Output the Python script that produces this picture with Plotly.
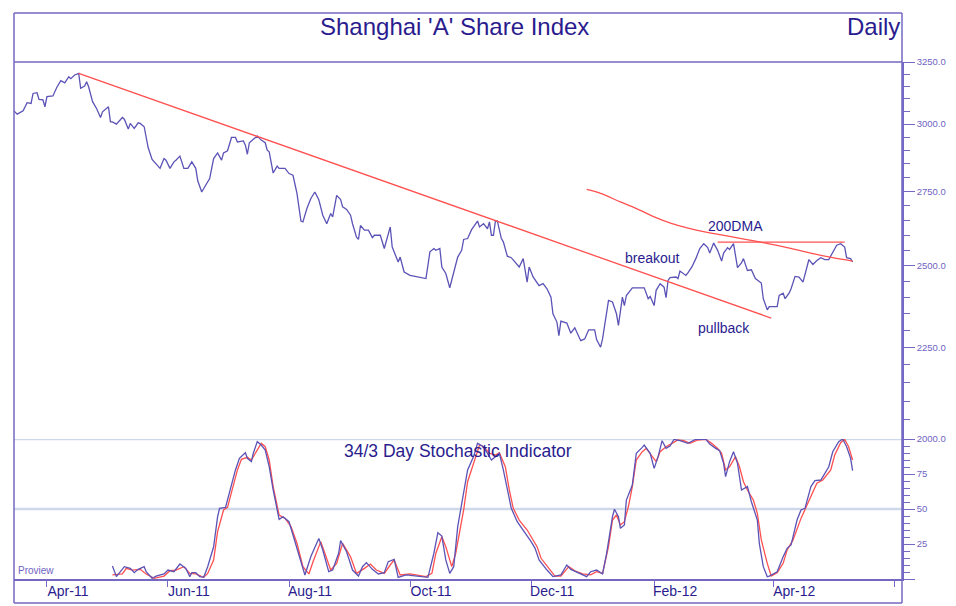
import numpy as np
import pandas as pd
import plotly.graph_objects as go

# ---------------- data (days counted from 2011-04-01) ----------------
price_day = [-17,-15,-12,-10,-8,-7,-5,-4,-2,-1,0,3,5,7,9,10,11,12,14,16,17,19,20,21,23,25,27,28,31,32,33,35,38,39,41,42,44,46,47,49,
             51,53,55,57,59,60,62,64,65,67,69,71,73,75,76,78,80,82,84,86,88,89,91,93,95,96,99,100,101,102,104,106,108,110,111,112,114,116,117,120,
             122,124,126,128,129,131,133,135,137,139,141,143,144,146,148,149,151,153,154,156,157,158,160,162,164,165,166,168,170,171,173,174,175,177,178,180,
             183,187,191,193,195,196,198,199,201,203,205,207,209,210,212,214,217,218,220,222,223,224,225,226,227,229,230,232,234,236,238,240,242,243,245,248,
             250,252,254,255,257,258,259,262,264,266,269,271,273,276,277,279,280,283,285,287,288,290,291,292,295,301,303,304,306,307,309,311,312,313,314,317,
             318,319,322,323,325,327,329,331,333,334,336,338,340,341,343,344,346,348,350,351,353,355,357,360,361,363,364,368,369,371,372,374,375,377,379,381,
             383,384,386,388,390,392,394,395,397,398,400,402,403,405,406]
price_val = [3055,3039,3052,3084,3081,3121,3124,3097,3095,3068,3108,3111,3146,3173,3164,3178,3189,3181,3196,3203,3142,3151,3168,3148,3088,3061,3026,3048,3068,3009,
             3009,3000,3026,3019,2981,3003,2984,3005,3003,2990,2911,2867,2849,2834,2870,2864,2834,2858,2864,2879,2834,2834,2858,2834,2789,2749,2773,2797,2870,2891,
             2864,2891,2899,2949,2949,2932,2936,2920,2886,2929,2942,2954,2939,2929,2901,2895,2817,2842,2834,2834,2815,2809,2744,2648,2645,2691,2726,2749,2722,2668,
             2639,2674,2662,2737,2722,2697,2688,2668,2639,2594,2586,2633,2617,2617,2592,2600,2600,2600,2556,2578,2628,2561,2545,2512,2528,2480,2469,2464,2459,2545,
             2556,2550,2556,2496,2475,2430,2480,2528,2550,2586,2589,2619,2648,2628,2639,2622,2645,2600,2600,2648,2648,2589,2578,2531,2526,2512,2496,2523,2448,2496,
             2464,2437,2443,2427,2401,2350,2325,2285,2328,2322,2292,2308,2270,2275,2302,2302,2273,2251,2275,2391,2386,2350,2315,2401,2375,2406,2430,2430,2396,2403,
             2375,2422,2443,2432,2399,2453,2462,2464,2459,2483,2469,2477,2496,2523,2556,2572,2559,2541,2574,2550,2515,2541,2559,2553,2572,2494,2509,2523,2485,2487,
             2459,2445,2396,2362,2372,2372,2406,2413,2396,2413,2427,2466,2464,2448,2494,2520,2504,2517,2526,2520,2520,2531,2556,2567,2572,2561,2526,2523,2512]

trend_day = [16, 365]
trend_val = [3203, 2337]
dma_day = [272, 279, 289, 299, 306, 315, 322, 334, 346, 359, 373, 386, 396, 406]
dma_val = [2758, 2744, 2714, 2685, 2662, 2639, 2626, 2608, 2594, 2578, 2559, 2539, 2526, 2515]
res_day = [338, 402]
res_val = [2577, 2577]

k_day = [33,35,39,42,44,46,49,50,53,55,59,61,64,67,70,72,73,75,77,79,81,84,86,87,90,92,95,97,100,101,103,104,106,108,110,112,114,117,119,122,
         124,127,130,133,137,139,142,144,147,148,151,154,157,159,161,164,167,170,172,175,177,181,188,192,195,197,199,201,203,205,207,210,212,215,217,220,222,224,226,228,
         230,232,234,237,240,242,244,246,248,252,255,259,262,264,269,272,274,277,280,282,285,286,288,289,291,292,295,297,300,301,304,306,308,310,312,314,316,319,323,327,
         332,334,337,339,341,342,344,346,348,350,353,355,358,359,361,363,364,368,371,373,375,378,380,382,385,387,390,394,396,399,401,403,405,406]
k_val = [9.3,1.7,8.8,7.6,4.5,6.9,8.8,5.2,0.5,2.1,3.6,6.4,5.2,10.7,7.6,1.7,4.5,4.5,1.7,1.2,8.8,23,44.5,50.5,51.2,62.4,77.9,86.2,90.2,86.2,
         83.8,89.8,98.1,95.7,92.1,80.2,63.6,42.6,44.5,40.9,31.4,15.9,2.9,16,29,20.7,5.2,6.4,18.4,27.4,19.5,6.4,2.1,8.8,11.7,6.9,3.6,4.5,12.4,14,
         1.2,2.9,2.1,1.2,18.4,33.1,30.7,13.6,4,8.8,37.4,61.2,77.9,87.4,96.9,94.5,89.8,85,87.4,89.8,77.9,63.6,50.5,40.9,35,30.7,26.7,21.9,13.6,6.4,
         1.7,2.9,10,6.9,3.6,1.7,5.2,6.4,3.6,18,44.5,49.8,44.5,36.2,38.6,56.4,67.1,89.8,94,95.7,89.8,79,87.4,98.8,93.3,95,99.8,98.8,96.9,99.8,
         100,96.4,93.3,91.7,82.6,73.1,83.8,90.9,82.6,63.6,66,55.2,42.1,25.5,8.8,1.7,2.1,5.2,15.9,21.9,24.3,42.1,49.3,50.5,66,70.2,70.7,80.2,90.9,98.1,
         100,94.5,86.2,77.4]
d_day = [33,38,40,43,47,50,54,59,62,65,69,72,75,79,81,84,86,89,91,93,96,98,101,103,106,108,110,112,114,117,120,123,126,129,132,134,138,141,143,146,
         149,153,156,160,163,166,170,173,175,178,183,191,194,196,199,201,204,206,210,212,215,218,220,223,226,228,231,233,235,238,242,244,247,249,253,256,259,263,266,270,
         274,277,280,283,285,287,289,291,293,295,297,300,302,305,307,309,312,315,318,321,324,328,332,335,338,340,342,344,347,349,351,353,356,358,360,363,365,368,371,373,
         376,380,382,385,388,391,395,397,400,402,404,406]
d_val = [2.9,3.6,7.6,6.4,6.9,3.6,0.5,2.1,5.9,6.4,8.8,4,3.6,1.2,4,13.6,33.8,49.3,51.2,61.2,77.9,85.5,86.9,85,92.1,96.9,94.5,85,66,45.7,
         43.3,37.4,25.5,8.8,3.6,12,26.7,13.6,6.4,11.2,25.5,15.9,4,7.6,10.7,6.4,4,10,13.6,2.9,3.6,1.7,4,18.4,30.2,23.1,8.8,18.4,49.3,69.5,
         82.6,95.7,94.5,89.8,88.6,90.2,80.2,63.6,50.5,42.1,35,30.2,23.1,14.8,7.6,2.1,2.1,8.8,5.9,3.6,2.9,5.2,4,23.1,42.1,45.7,38.6,40.9,51.6,66,
         85,90.9,93.3,87.4,83.8,90.9,94.5,96.9,99.3,98.8,96.9,99.3,99.8,96.9,93.3,89.8,77.9,80.2,87.4,80.2,69.5,63.6,56.4,46.9,27.9,11.2,2.1,4.5,11.2,20.7,
         27.9,43.3,49.3,58.8,68.4,70.7,77.9,88.6,97.4,99.8,94.5,85]

month_ticks = ["2011-04-01", "2011-06-01", "2011-08-01", "2011-10-01", "2011-12-01", "2012-02-01", "2012-04-01", "2012-06-01"]
month_labels = ["Apr-11", "Jun-11", "Aug-11", "Oct-11", "Dec-11", "Feb-12", "Apr-12", ""]
price_ticks = [2000, 2250, 2500, 2750, 3000, 3250]
price_tick_labels = ["2000.0", "2250.0", "2500.0", "2750.0", "3000.0", "3250.0"]
price_minor = [v for v in range(2050, 3250, 50) if v % 250 != 0]
stoch_ticks = [0, 25, 50, 75]
stoch_tick_labels = ["", "25", "50", "75"]
stoch_minor = [v for v in range(5, 100, 5) if v % 25 != 0]

# ---------------- helpers ----------------
base = pd.Timestamp("2011-04-01")
def to_dates(days):
    return base + pd.to_timedelta(days, unit="D")

PURPLE = "#7468c2"
LINE_BLUE = "#5b53b6"
RED = "#ff5050"
TEXT = "#2a1c8e"
GRID = "#cdd8ea"
FONT = "Liberation Sans, Arial, sans-serif"

fig = go.Figure()
fig.add_trace(go.Scatter(x=to_dates(price_day), y=price_val, mode="lines",
                         line=dict(color=LINE_BLUE, width=1.3), xaxis="x", yaxis="y"))
fig.add_trace(go.Scatter(x=to_dates(trend_day), y=trend_val, mode="lines",
                         line=dict(color=RED, width=1.3), xaxis="x", yaxis="y"))
fig.add_trace(go.Scatter(x=to_dates(dma_day), y=dma_val, mode="lines", line_shape="spline",
                         line=dict(color=RED, width=1.3), xaxis="x", yaxis="y"))
fig.add_trace(go.Scatter(x=to_dates(res_day), y=res_val, mode="lines",
                         line=dict(color=RED, width=1.3), xaxis="x", yaxis="y"))
fig.add_trace(go.Scatter(x=to_dates(d_day), y=d_val, mode="lines",
                         line=dict(color=RED, width=1.3), xaxis="x", yaxis="y2"))
fig.add_trace(go.Scatter(x=to_dates(k_day), y=k_val, mode="lines",
                         line=dict(color=LINE_BLUE, width=1.3), xaxis="x", yaxis="y2"))

split = 140 / 517  # stochastic panel share of plot height

# the page body adds an 8px margin, so the figure is 8px smaller than the window
fig.update_layout(
    width=948, height=598, autosize=False,
    margin=dict(l=6, r=54, t=54, b=27, pad=0),
    paper_bgcolor="white", plot_bgcolor="white",
    showlegend=False,
    font=dict(family=FONT, color=TEXT),
    xaxis=dict(
        type="date", anchor="y2", domain=[0, 1],
        range=[base + pd.Timedelta(days=-16.6), base + pd.Timedelta(days=430.9)],
        tickvals=month_ticks, ticktext=month_labels,
        ticks="outside", ticklen=6, tickwidth=1.2, tickcolor=PURPLE,
        tickfont=dict(size=14, color=TEXT, family=FONT),
        ticklabelshift=21, ticklabelstandoff=-8,
        showline=True, linecolor=PURPLE, linewidth=1.5,
        showgrid=False, zeroline=False, automargin=False,
    ),
    yaxis=dict(
        type="log", domain=[split, 1], anchor="x", side="right",
        range=[np.log10(2000), np.log10(3250)],
        tickvals=price_ticks, ticktext=price_tick_labels,
        ticks="outside", ticklen=11, tickwidth=1.2, tickcolor=PURPLE,
        minor=dict(tickvals=price_minor, ticks="outside", ticklen=6, tickcolor=PURPLE, tickwidth=1.2),
        tickfont=dict(size=9.5, color="#6f63c4", family=FONT),
        showline=True, linecolor=PURPLE, linewidth=1.5,
        showgrid=False, zeroline=False, automargin=False,
    ),
    yaxis2=dict(
        domain=[0, split], anchor="x", side="right",
        range=[0, 100],
        tickvals=stoch_ticks, ticktext=stoch_tick_labels,
        ticks="outside", ticklen=11, tickwidth=1.2, tickcolor=PURPLE,
        minor=dict(tickvals=stoch_minor, ticks="outside", ticklen=6, tickcolor=PURPLE, tickwidth=1.2),
        tickfont=dict(size=9.5, color="#6f63c4", family=FONT),
        showline=True, linecolor=PURPLE, linewidth=1.5,
        showgrid=False, zeroline=False, automargin=False,
    ),
)

top_y = 1 + 49 / 517
bot_y = -24 / 517
shapes = [
    dict(type="line", xref="paper", yref="y2", x0=0, x1=1, y0=100, y1=100, line=dict(color=GRID, width=2.5), layer="below"),
    dict(type="line", xref="paper", yref="y2", x0=0, x1=1, y0=50, y1=50, line=dict(color=GRID, width=2.5), layer="below"),
    dict(type="line", xref="paper", yref="paper", x0=0, x1=1, y0=top_y, y1=top_y, line=dict(color=PURPLE, width=1.5)),
    dict(type="line", xref="paper", yref="paper", x0=0, x1=1, y0=1, y1=1, line=dict(color=PURPLE, width=1.5)),
    dict(type="line", xref="paper", yref="paper", x0=0, x1=1, y0=bot_y, y1=bot_y, line=dict(color=PURPLE, width=1.5)),
    dict(type="line", xref="paper", yref="paper", x0=0, x1=0, y0=bot_y, y1=top_y, line=dict(color=PURPLE, width=1.5)),
    dict(type="line", xref="paper", yref="paper", x0=1, x1=1, y0=bot_y, y1=top_y, line=dict(color=PURPLE, width=1.5)),
]
fig.update_layout(shapes=shapes)

annotations = [
    dict(text="Shanghai 'A' Share Index", xref="paper", yref="paper", x=0.4966, y=1 + 35 / 517,
         xanchor="center", yanchor="middle", showarrow=False, font=dict(size=24, color=TEXT, family=FONT)),
    dict(text="Daily", xref="paper", yref="paper", x=1.0, y=1 + 35 / 517,
         xanchor="right", yanchor="middle", showarrow=False, font=dict(size=24, color=TEXT, family=FONT)),
    dict(text="34/3 Day Stochastic Indicator", xref="paper", yref="paper", x=0.5, y=(579 - 451) / 517,
         xanchor="center", yanchor="middle", showarrow=False, font=dict(size=17.5, color=TEXT, family=FONT)),
    dict(text="Proview", xref="paper", yref="paper", x=0.002, y=(579 - 570) / 517,
         xanchor="left", yanchor="middle", showarrow=False, font=dict(size=10, color="#6f63c4", family=FONT)),
    dict(text="200DMA", xref="x", yref="y", x=to_dates([347])[0], y=np.log10(2631),
         xanchor="center", yanchor="middle", showarrow=False, font=dict(size=14, color=TEXT, family=FONT)),
    dict(text="breakout", xref="x", yref="y", x=to_dates([305])[0], y=np.log10(2525),
         xanchor="center", yanchor="middle", showarrow=False, font=dict(size=14, color=TEXT, family=FONT)),
    dict(text="pullback", xref="x", yref="y", x=to_dates([341])[0], y=np.log10(2306),
         xanchor="center", yanchor="middle", showarrow=False, font=dict(size=14, color=TEXT, family=FONT)),
]
fig.update_layout(annotations=annotations)

fig.write_html("out.html")
